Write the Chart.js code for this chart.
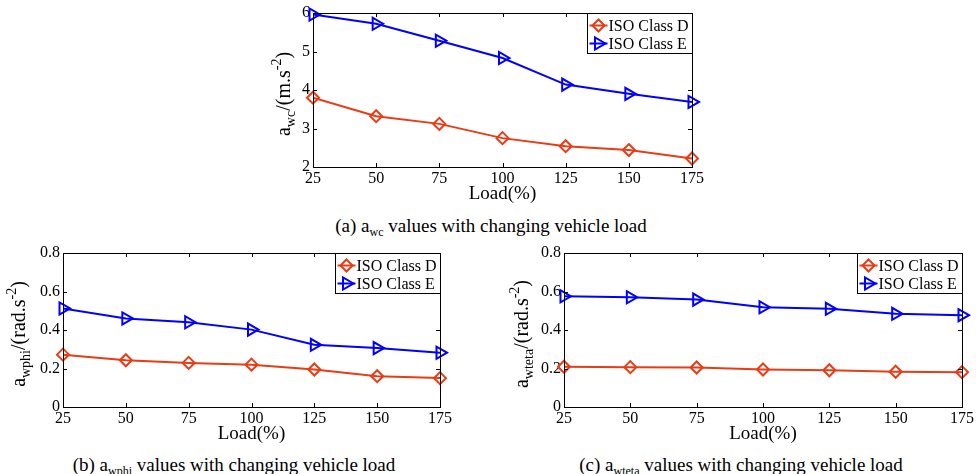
<!DOCTYPE html>
<html><head><meta charset="utf-8">
<script src="https://cdn.jsdelivr.net/npm/chart.js@4/dist/chart.umd.min.js"></script>
<style>
body{margin:0;width:976px;height:474px;background:#fff;position:relative;overflow:hidden;font-family:'Liberation Serif','Times New Roman',serif;}
canvas{position:absolute;}
.cap{position:absolute;font-size:19px;line-height:19px;white-space:nowrap;transform:translateX(-50%);color:#000;}
.cap sub{font-size:12px;vertical-align:-4px;line-height:0;}
</style></head><body>
<canvas id="ca" width="460" height="205" style="left:250px;top:0px"></canvas>
<canvas id="cb" width="460" height="205" style="left:0px;top:240px"></canvas>
<canvas id="cc" width="475" height="205" style="left:501px;top:240px"></canvas>
<div class="cap" style="left:491px;top:216px">(a) a<sub>wc</sub> values with changing vehicle load</div>
<div class="cap" style="left:234px;top:455px">(b) a<sub>wphi</sub> values with changing vehicle load</div>
<div class="cap" style="left:741px;top:455px">(c) a<sub>wteta</sub> values with changing vehicle load</div>
<script>
const loads = [25, 50, 75, 100, 125, 150, 175];
const seriesNames = ['ISO Class D', 'ISO Class E'];
const awcD = [3.80, 3.32, 3.12, 2.75, 2.54, 2.44, 2.22];
const awcE = [5.96, 5.72, 5.28, 4.83, 4.14, 3.90, 3.69];
const awphiD = [0.272, 0.243, 0.229, 0.220, 0.195, 0.160, 0.150];
const awphiE = [0.512, 0.460, 0.440, 0.402, 0.323, 0.306, 0.282];
const awtetaD = [0.209, 0.207, 0.205, 0.195, 0.191, 0.183, 0.181];
const awtetaE = [0.575, 0.570, 0.558, 0.518, 0.510, 0.484, 0.477];
const xTitle = 'Load(%)';

const RED = '#e83c14', BLUE = '#0000ff';
const FONT = "'Liberation Serif','Times New Roman',serif";

function drawMarker(ctx, style, x, y, color) {
  ctx.save();
  ctx.strokeStyle = color; ctx.lineWidth = 2;
  ctx.beginPath();
  if (style === 'diamond') {
    const r = 6;
    ctx.moveTo(x, y - r); ctx.lineTo(x + r, y); ctx.lineTo(x, y + r); ctx.lineTo(x - r, y); ctx.closePath();
  } else {
    const r = 7;
    ctx.moveTo(x + r, y); ctx.lineTo(x - r / 2, y - r * 0.866); ctx.lineTo(x - r / 2, y + r * 0.866); ctx.closePath();
  }
  ctx.stroke();
  ctx.restore();
}

const framePlugin = {
  id: 'frame',
  afterDraw(chart, args, opts) {
    const ctx = chart.ctx, a = chart.chartArea;
    const xs = chart.scales.x, ys = chart.scales.y;
    ctx.save();
    ctx.strokeStyle = '#000'; ctx.lineWidth = 1;
    ctx.beginPath();
    xs.ticks.forEach((t, i) => {
      const px = Math.round(xs.getPixelForTick(i)) + 0.5;
      ctx.moveTo(px, a.bottom); ctx.lineTo(px, a.bottom - 4);
      ctx.moveTo(px, a.top); ctx.lineTo(px, a.top + 4);
    });
    ys.ticks.forEach((t, i) => {
      const py = Math.round(ys.getPixelForTick(i)) + 0.5;
      ctx.moveTo(a.left, py); ctx.lineTo(a.left + 4, py);
      ctx.moveTo(a.right, py); ctx.lineTo(a.right - 4, py);
    });
    ctx.stroke();
    ctx.strokeRect(Math.round(a.left) + 0.5, Math.round(a.top) + 0.5, Math.round(a.right - a.left), Math.round(a.bottom - a.top));

    // legend box
    ctx.font = '16px ' + FONT;
    const tw = Math.max(...chart.data.datasets.map(d => ctx.measureText(d.label).width));
    const bw = Math.round(21 + tw + 4), bh = 40;
    const bx = Math.round(a.right - bw) + 0.5, by = Math.round(a.top) + 0.5;
    ctx.fillStyle = '#fff';
    ctx.fillRect(bx, by, bw, bh);
    ctx.strokeRect(bx, by, bw, bh);
    chart.data.datasets.forEach((d, i) => {
      const ry = by + 12 + i * 18;
      ctx.strokeStyle = d.borderColor; ctx.lineWidth = 2;
      ctx.beginPath(); ctx.moveTo(bx + 2, ry); ctx.lineTo(bx + 20, ry); ctx.stroke();
      drawMarker(ctx, d.markerKind, bx + 11, ry, d.borderColor);
      ctx.fillStyle = '#000'; ctx.textBaseline = 'middle'; ctx.textAlign = 'left';
      ctx.fillText(d.label, bx + 21, ry + 1);
    });

    // y axis title with sub/superscripts
    const parts = opts.parts;
    let total = 0;
    parts.forEach(p => { ctx.font = p.size + 'px ' + FONT; p.w = ctx.measureText(p.t).width; total += p.w; });
    const cx = a.left - opts.dx, cy = (a.top + a.bottom) / 2 + 4;
    ctx.translate(cx, cy);
    ctx.rotate(-Math.PI / 2);
    ctx.fillStyle = '#000'; ctx.textBaseline = 'alphabetic'; ctx.textAlign = 'left';
    let cur = -total / 2;
    parts.forEach(p => {
      ctx.font = p.size + 'px ' + FONT;
      ctx.fillText(p.t, cur, 5 + (p.dy || 0));
      cur += p.w;
    });
    ctx.restore();
  }
};

const markerPlugin = {
  id: 'markers',
  afterDatasetsDraw(chart) {
    const ctx = chart.ctx;
    chart.data.datasets.forEach((d, i) => {
      chart.getDatasetMeta(i).data.forEach(pt => drawMarker(ctx, d.markerKind, pt.x, pt.y, d.borderColor));
    });
  }
};

function makeChart(id, dD, dE, yMin, yMax, yStep, rightPad, parts, dx) {
  const toPts = arr => loads.map((x, i) => ({x: x, y: arr[i]}));
  return new Chart(document.getElementById(id), {
    type: 'line',
    data: {
      datasets: [
        {label: seriesNames[0], data: toPts(dD), borderColor: RED, borderWidth: 2, pointRadius: 0, markerKind: 'diamond', tension: 0},
        {label: seriesNames[1], data: toPts(dE), borderColor: BLUE, borderWidth: 2, pointRadius: 0, markerKind: 'triangle', tension: 0}
      ]
    },
    options: {
      responsive: false, animation: false, devicePixelRatio: 1,
      layout: {padding: {top: 13, right: rightPad, left: 0, bottom: 0}},
      plugins: {legend: {display: false}, tooltip: {enabled: false}, frame: {parts: parts, dx: dx}},
      scales: {
        x: {
          type: 'linear', min: 25, max: 175,
          ticks: {stepSize: 25, color: '#000', font: {family: FONT, size: 16}, padding: 2, maxRotation: 0},
          grid: {display: false, drawTicks: false}, border: {display: false},
          title: {display: true, text: xTitle, color: '#000', font: {family: FONT, size: 19}, padding: {top: 0, bottom: 0}},
          afterFit(s) { s.height = 38; }
        },
        y: {
          min: yMin, max: yMax,
          ticks: {stepSize: yStep, color: '#000', font: {family: FONT, size: 16}, padding: 3,
            callback: v => (Math.round(v * 10) / 10).toString()},
          grid: {display: false, drawTicks: false}, border: {display: false},
          afterFit(s) { s.width = 63; }
        }
      }
    },
    plugins: [markerPlugin, framePlugin]
  });
}

makeChart('ca', awcD, awcE, 2, 6, 1, 18,
  [{t: 'a', size: 20}, {t: 'wc', size: 14, dy: 5}, {t: '/(m.s', size: 20}, {t: '-2', size: 14, dy: -9}, {t: ')', size: 20}], 28);
makeChart('cb', awphiD, awphiE, 0, 0.8, 0.2, 20,
  [{t: 'a', size: 20}, {t: 'wphi', size: 14, dy: 5}, {t: '/(rad.s', size: 20}, {t: '-2', size: 14, dy: -9}, {t: ')', size: 20}], 43);
makeChart('cc', awtetaD, awtetaE, 0, 0.8, 0.2, 12,
  [{t: 'a', size: 20}, {t: 'wteta', size: 14, dy: 5}, {t: '/(rad.s', size: 20}, {t: '-2', size: 14, dy: -9}, {t: ')', size: 20}], 41);
</script>
</body></html>
